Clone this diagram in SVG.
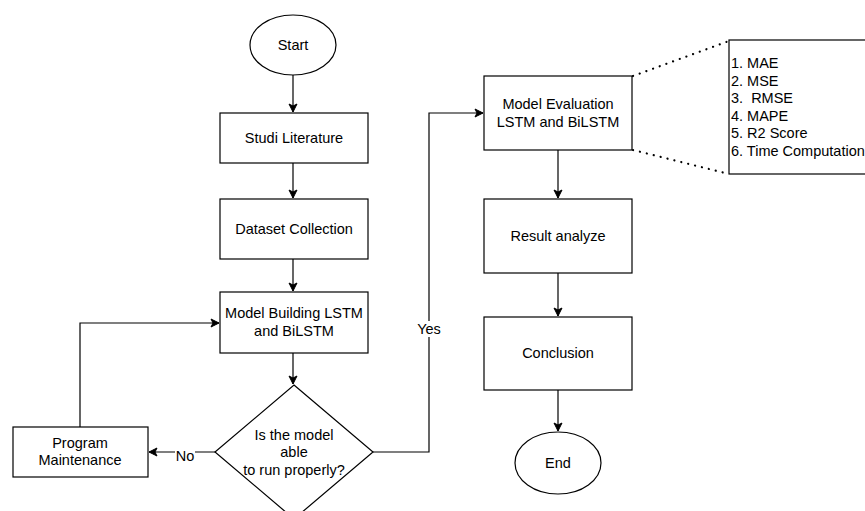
<svg xmlns="http://www.w3.org/2000/svg" width="865" height="511" viewBox="0 0 865 511">
<defs>
<marker id="arr" markerWidth="10" markerHeight="10" refX="9" refY="5" orient="auto" markerUnits="userSpaceOnUse">
<path d="M1,1 L9,5 L1,9 L3,5 Z" fill="#000" stroke="#000" stroke-width="1"/>
</marker>
</defs>
<style>
.s{fill:#fff;stroke:#000;stroke-width:1.2}
.t{font-family:"Liberation Sans",Arial,sans-serif;font-size:14.5px;fill:#000;text-anchor:middle}
.l{font-family:"Liberation Sans",Arial,sans-serif;font-size:14.5px;fill:#000;white-space:pre}
.c{fill:none;stroke:#000;stroke-width:1.2}
.d{fill:none;stroke:#000;stroke-width:2.2;stroke-dasharray:0.1 7;stroke-linecap:round}
</style>
<rect width="865" height="511" fill="#fff"/>
<g id="connectors">
<line class="c" x1="293" y1="75" x2="293" y2="112" marker-end="url(#arr)"/>
<line class="c" x1="293" y1="163" x2="293" y2="198" marker-end="url(#arr)"/>
<line class="c" x1="293" y1="259" x2="293" y2="291" marker-end="url(#arr)"/>
<line class="c" x1="293" y1="353" x2="293" y2="384" marker-end="url(#arr)"/>
<polyline class="c" points="80,427 80,323 219,323" marker-end="url(#arr)"/>
<line class="c" x1="215" y1="452" x2="149" y2="452" marker-end="url(#arr)"/>
<polyline class="c" points="373,452 429,452 429,113 483,113" marker-end="url(#arr)"/>
<line class="c" x1="558" y1="150" x2="558" y2="198" marker-end="url(#arr)"/>
<line class="c" x1="558" y1="273" x2="558" y2="316" marker-end="url(#arr)"/>
<line class="c" x1="558" y1="390" x2="558" y2="431" marker-end="url(#arr)"/>
<line class="d" x1="633" y1="76" x2="729" y2="41"/>
<line class="d" x1="633" y1="150" x2="729" y2="174"/>
<rect x="175" y="446" width="20" height="15" fill="#fff"/>
<text class="t" x="185" y="461">No</text>
<rect x="416" y="321" width="27" height="16" fill="#fff"/>
<text class="t" x="429" y="334">Yes</text>
</g>
<g id="start"><ellipse class="s" cx="293" cy="45" rx="43" ry="30"/><text class="t" x="293" y="50">Start</text></g>
<g id="studi"><rect class="s" x="220" y="113" width="148" height="50"/><text class="t" x="294" y="143">Studi Literature</text></g>
<g id="dataset"><rect class="s" x="220" y="199" width="148" height="60"/><text class="t" x="294" y="234">Dataset Collection</text></g>
<g id="building"><rect class="s" x="220" y="292" width="148" height="61"/><text class="t" x="294" y="318">Model Building LSTM</text><text class="t" x="294" y="336">and BiLSTM</text></g>
<g id="decision"><polygon class="s" points="294,385 373,452 294,519 215,452"/><text class="t" x="294" y="440">Is the model</text><text class="t" x="294" y="457">able</text><text class="t" x="294" y="475">to run properly?</text></g>
<g id="maintenance"><rect class="s" x="13" y="427" width="135" height="50"/><text class="t" x="80" y="448">Program</text><text class="t" x="80" y="465">Maintenance</text></g>
<g id="evaluation"><rect class="s" x="484" y="76" width="148" height="74"/><text class="t" x="558" y="109">Model Evaluation</text><text class="t" x="558" y="127">LSTM and BiLSTM</text></g>
<g id="metrics"><rect class="s" x="729" y="40" width="145" height="134"/>
<text class="l" x="731" y="68">1. MAE</text>
<text class="l" x="731" y="86">2. MSE</text>
<text class="l" x="731" y="103">3.  RMSE</text>
<text class="l" x="731" y="121">4. MAPE</text>
<text class="l" x="731" y="138">5. R2 Score</text>
<text class="l" x="731" y="156">6. Time Computation</text>
</g>
<g id="result"><rect class="s" x="484" y="199" width="148" height="74"/><text class="t" x="558" y="241">Result analyze</text></g>
<g id="conclusion"><rect class="s" x="484" y="317" width="148" height="73"/><text class="t" x="558" y="358">Conclusion</text></g>
<g id="end"><ellipse class="s" cx="558" cy="463" rx="43" ry="31"/><text class="t" x="558" y="468">End</text></g>
</svg>
